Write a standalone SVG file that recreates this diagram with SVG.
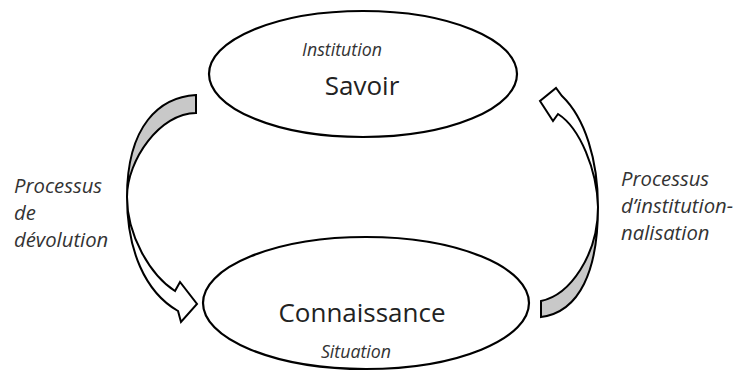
<svg xmlns="http://www.w3.org/2000/svg" width="738" height="372" viewBox="0 0 738 372">
<style>
.ell{fill:#fff;stroke:#000;stroke-width:2.2}
.arr{stroke:#000;stroke-width:2;stroke-linejoin:miter}
.back{fill:#c8c8c8}
.front{fill:#fff}
.main{font-family:"Open Sans","Liberation Sans",sans-serif;font-size:26px;fill:#222;text-anchor:middle}
.sub{font-family:"Open Sans","Liberation Sans",sans-serif;font-size:17.8px;font-style:italic;fill:#333;text-anchor:middle}
.lab{font-family:"Open Sans","Liberation Sans",sans-serif;font-size:20.3px;font-style:italic;fill:#333}
</style>
<rect width="738" height="372" fill="#fff"/>
<g id="connectors">
  <g id="devolution-arrow">
    <path class="arr back" d="M196,95 C160,97 127,125 127,197 C127,160 160,113 196,113 Z"/>
    <path class="arr front" d="M127,197 C127,250 145,292 178,311 L181,322 L197,304 L180,282 L175,291 C150,275 127,235 127,197 Z"/>
  </g>
  <g id="institutionnalisation-arrow">
    <path class="arr back" d="M541,301 C570,295 598,255 598,207 C598,270 580,312 541,317 Z"/>
    <path class="arr front" d="M562,96 C585,118 598,160 598,207 C597,170 580,128 558,114 L553,121 L540,101 L556,88 Z"/>
  </g>
</g>
<g id="savoir">
  <ellipse class="ell" cx="363" cy="74" rx="154" ry="63"/>
  <text class="sub" x="342" y="56">Institution</text>
  <text class="main" x="362" y="95">Savoir</text>
</g>
<g id="connaissance">
  <ellipse class="ell" cx="366" cy="303" rx="163" ry="66"/>
  <text class="main" x="362" y="322">Connaissance</text>
  <text class="sub" x="356" y="358">Situation</text>
</g>
<g id="label-devolution">
  <text class="lab" x="14" y="193">Processus</text>
  <text class="lab" x="14" y="220">de</text>
  <text class="lab" x="14" y="247">dévolution</text>
</g>
<g id="label-institutionnalisation">
  <text class="lab" x="621" y="186">Processus</text>
  <text class="lab" x="621" y="213">d’institution-</text>
  <text class="lab" x="621" y="240">nalisation</text>
</g>
</svg>
